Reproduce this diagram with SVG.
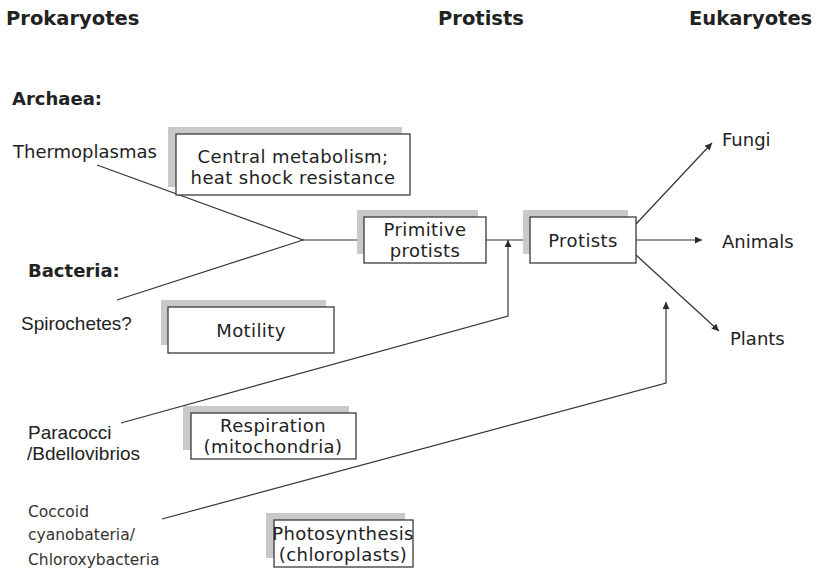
<svg xmlns="http://www.w3.org/2000/svg" width="816" height="571" viewBox="0 0 816 571">
  <defs>
    <marker id="arrow" viewBox="0 0 10 10" refX="10" refY="5" markerWidth="9" markerHeight="7" markerUnits="userSpaceOnUse" orient="auto">
      <path d="M0,0 L10,5 L0,10 z" fill="#2b2b2b"/>
    </marker>
  </defs>
  <style>
    .head { font-family: "DejaVu Sans", Verdana, sans-serif; font-weight: bold; font-size: 19.5px; fill: #222; }
    .group { font-family: "DejaVu Sans", Verdana, sans-serif; font-weight: bold; font-size: 18px; fill: #222; }
    .label { font-family: "DejaVu Sans", Verdana, sans-serif; font-size: 18px; fill: #222; }
    .arial { font-family: "Liberation Sans", Arial, sans-serif; font-size: 19px; fill: #222; }
    .small { font-family: "DejaVu Sans", Verdana, sans-serif; font-size: 15.5px; fill: #333; }
    .boxtext { font-family: "DejaVu Sans", Verdana, sans-serif; font-size: 18px; fill: #222; text-anchor: middle; letter-spacing: 0.4px; }
    .shadow { fill: #c9c9c9; }
    .box { fill: #fff; stroke: #3a3a3a; stroke-width: 1.3; }
    .link { fill: none; stroke: #333; stroke-width: 1.2; }
  </style>
  <rect width="816" height="571" fill="#fff"/>

  <!-- column headings -->
  <text class="head" x="6" y="25">Prokaryotes</text>
  <text class="head" x="438" y="25">Protists</text>
  <text class="head" x="689" y="25">Eukaryotes</text>

  <!-- source organisms -->
  <text class="group" x="12" y="105">Archaea:</text>
  <text class="label" x="13" y="158">Thermoplasmas</text>
  <text class="group" x="28" y="277">Bacteria:</text>
  <text class="arial" x="21" y="330">Spirochetes?</text>
  <text class="arial" x="28" y="439">Paracocci</text>
  <text class="arial" x="27" y="460">/Bdellovibrios</text>
  <text class="small" x="28" y="517">Coccoid</text>
  <text class="small" x="28" y="540">cyanobateria/</text>
  <text class="small" x="28" y="565">Chloroxybacteria</text>

  <!-- outcomes -->
  <text class="label" x="722" y="146">Fungi</text>
  <text class="label" x="722" y="248">Animals</text>
  <text class="label" x="730" y="345">Plants</text>

  <!-- connectors -->
  <g id="connectors">
    <polyline class="link" points="97,165 303,240 117,300"/>
    <line class="link" x1="303" y1="240" x2="364" y2="240" marker-end="url(#arrow)"/>
    <line class="link" x1="486" y1="240" x2="530" y2="240" marker-end="url(#arrow)"/>
    <polyline class="link" points="121,423 508,316 508,240" marker-end="url(#arrow)"/>
    <polyline class="link" points="162,519 666,383 666,302" marker-end="url(#arrow)"/>
    <line class="link" x1="636" y1="224" x2="712" y2="143" marker-end="url(#arrow)"/>
    <line class="link" x1="636" y1="240" x2="702" y2="240" marker-end="url(#arrow)"/>
    <line class="link" x1="636" y1="255" x2="719" y2="331" marker-end="url(#arrow)"/>
  </g>

  <!-- acquired traits and stages -->
  <g id="central-metabolism">
    <rect class="shadow" x="168" y="127" width="234" height="60"/>
    <rect class="box" x="176" y="134" width="234" height="61"/>
    <text class="boxtext" x="293" y="163">Central metabolism;</text>
    <text class="boxtext" x="293" y="184">heat shock resistance</text>
  </g>
  <g id="primitive-protists">
    <rect class="shadow" x="357" y="210" width="121" height="44"/>
    <rect class="box" x="364" y="217" width="122" height="46"/>
    <text class="boxtext" x="425" y="236">Primitive</text>
    <text class="boxtext" x="425" y="257">protists</text>
  </g>
  <g id="protists">
    <rect class="shadow" x="523" y="210" width="105" height="44"/>
    <rect class="box" x="530" y="217" width="106" height="46"/>
    <text class="boxtext" x="583" y="247">Protists</text>
  </g>
  <g id="motility">
    <rect class="shadow" x="161" y="300" width="165" height="45"/>
    <rect class="box" x="168" y="307" width="166" height="46"/>
    <text class="boxtext" x="251" y="337">Motility</text>
  </g>
  <g id="respiration">
    <rect class="shadow" x="183" y="406" width="166" height="44"/>
    <rect class="box" x="191" y="413" width="165" height="46"/>
    <text class="boxtext" x="273" y="432">Respiration</text>
    <text class="boxtext" x="273" y="453">(mitochondria)</text>
  </g>
  <g id="photosynthesis">
    <rect class="shadow" x="266" y="513" width="139" height="45"/>
    <rect class="box" x="274" y="520" width="139" height="47"/>
    <text class="boxtext" x="343" y="540">Photosynthesis</text>
    <text class="boxtext" x="343" y="561">(chloroplasts)</text>
  </g>
</svg>
